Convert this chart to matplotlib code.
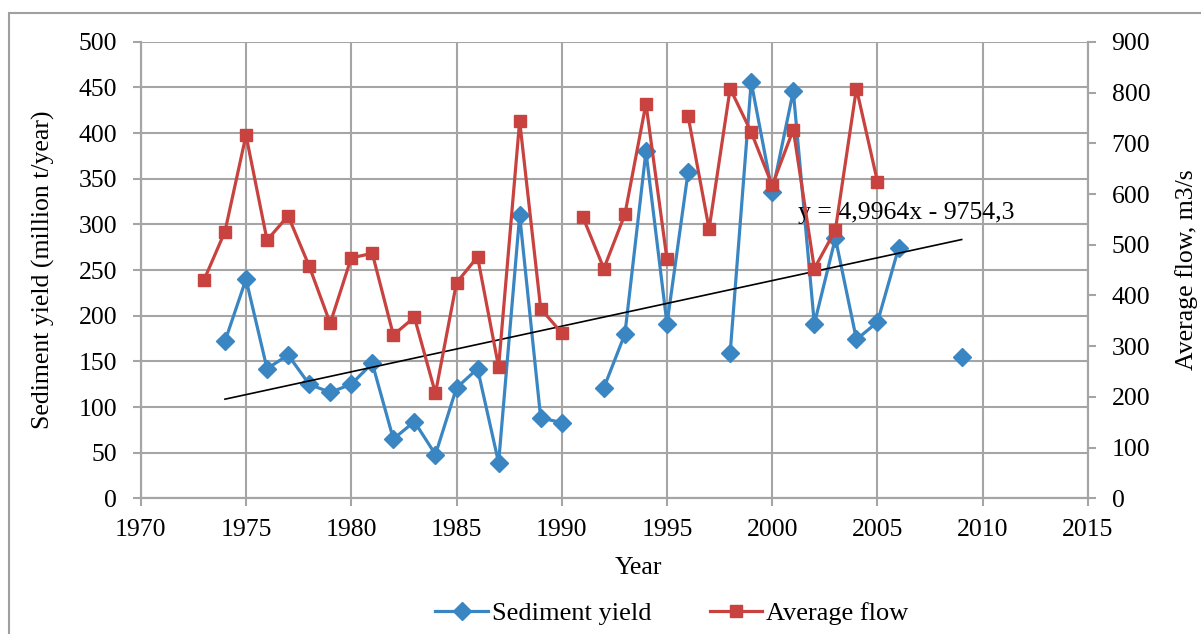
import numpy as np
import matplotlib.pyplot as plt
from matplotlib.patches import Rectangle
from matplotlib.lines import Line2D

plt.rcParams['font.family'] = ['Liberation Serif', 'DejaVu Serif']

# sediment yield, million t/year (nan = no data, leaves a gap)
sed_years = np.arange(1974, 2010)
sed_yield = np.array([172, 240, 142, 157, 125, 116, 125, 148, 65, 84, 48, 121,
                      142, 39, 310, 88, 83, np.nan, 121, 180, 380, 191, 357,
                      np.nan, 159, 456, 335, 446, 191, 285, 174, 193, 274,
                      np.nan, np.nan, 155], dtype=float)

# average flow, m3/s
flow_years = np.arange(1973, 2006)
avg_flow = np.array([430, 526, 716, 509, 557, 458, 345, 474, 483, 322, 357, 207,
                     425, 476, 259, 744, 374, 326, 555, 453, 560, 778, 471, 754,
                     531, 808, 722, 617, 727, 453, 529, 808, 624], dtype=float)
flow_breaks = [1991, 1996]  # line restarts at these years

# linear trend of sediment yield
slope, intercept = 4.9964, -9754.3
trend_years = [1974, 2009]

blue = '#3A86C3'
red = '#C8423F'
grid_c = '#A5A5A5'
fs = 18.5

fig = plt.figure(figsize=(12.01, 6.34), dpi=100)
fig.patches.append(Rectangle((9 / 1201, -0.05), 1.1, 1 - 13 / 634 + 0.05,
                             transform=fig.transFigure, fill=False,
                             edgecolor='#A0A0A0', linewidth=1.5))

ax = fig.add_axes([0.1172, 0.214, 0.7887, 0.720])
ax2 = ax.twinx()

ax.set_xlim(1970, 2015)
ax.set_ylim(0, 500)
ax2.set_ylim(0, 900)
ax.set_xticks(np.arange(1970, 2016, 5))
ax.set_yticks(np.arange(0, 501, 50))
ax2.set_yticks(np.arange(0, 901, 100))

ax.grid(True, color=grid_c, linewidth=1.5)
ax.set_axisbelow(True)
for a in (ax, ax2):
    for s in a.spines.values():
        s.set_color(grid_c)
        s.set_linewidth(1.5)
    a.tick_params(colors=grid_c, labelcolor='black', labelsize=fs,
                  width=1.5, length=6, pad=11)
ax.spines['top'].set_visible(False)
ax2.spines['top'].set_visible(False)
ax.tick_params(axis='x', pad=9)

ax.plot(sed_years, sed_yield, color=blue, linewidth=2.3, marker='D',
        markersize=9, label='Sediment yield', zorder=3)
ax.plot(trend_years, [slope * x + intercept for x in trend_years],
        color='black', linewidth=1.2, zorder=4)
ax.text(2001.2, 313, 'y = 4,9964x - 9754,3', fontsize=fs, va='center',
        ha='left', zorder=5)

fx, fy = [], []
for yr, v in zip(flow_years, avg_flow):
    if yr in flow_breaks:
        fx.append(np.nan)
        fy.append(np.nan)
    fx.append(yr)
    fy.append(v)
ax2.plot(fx, fy, color=red, linewidth=2.3, marker='s', markersize=8,
         label='Average flow', zorder=3)

ax.set_xlabel('Year', fontsize=fs)
ax.xaxis.set_label_coords(0.525, -0.128)
ax.set_ylabel('Sediment yield (million t/year)', fontsize=fs)
ax.yaxis.set_label_coords(-0.091, 0.5)
ax2.set_ylabel('Average flow, m3/s', fontsize=fs)
ax2.yaxis.set_label_coords(1.092, 0.5)

handles = [Line2D([], [], color=blue, linewidth=2.3, marker='D', markersize=9),
           Line2D([], [], color=red, linewidth=2.3, marker='s', markersize=8)]
fig.legend(handles, ['Sediment yield', 'Average flow'], loc='center',
           bbox_to_anchor=(672 / 1201, 1 - 613 / 634), ncol=2, frameon=False,
           fontsize=19, handlelength=2.0, handletextpad=0.15, columnspacing=2.2)

fig.savefig('out.png', dpi=100)
